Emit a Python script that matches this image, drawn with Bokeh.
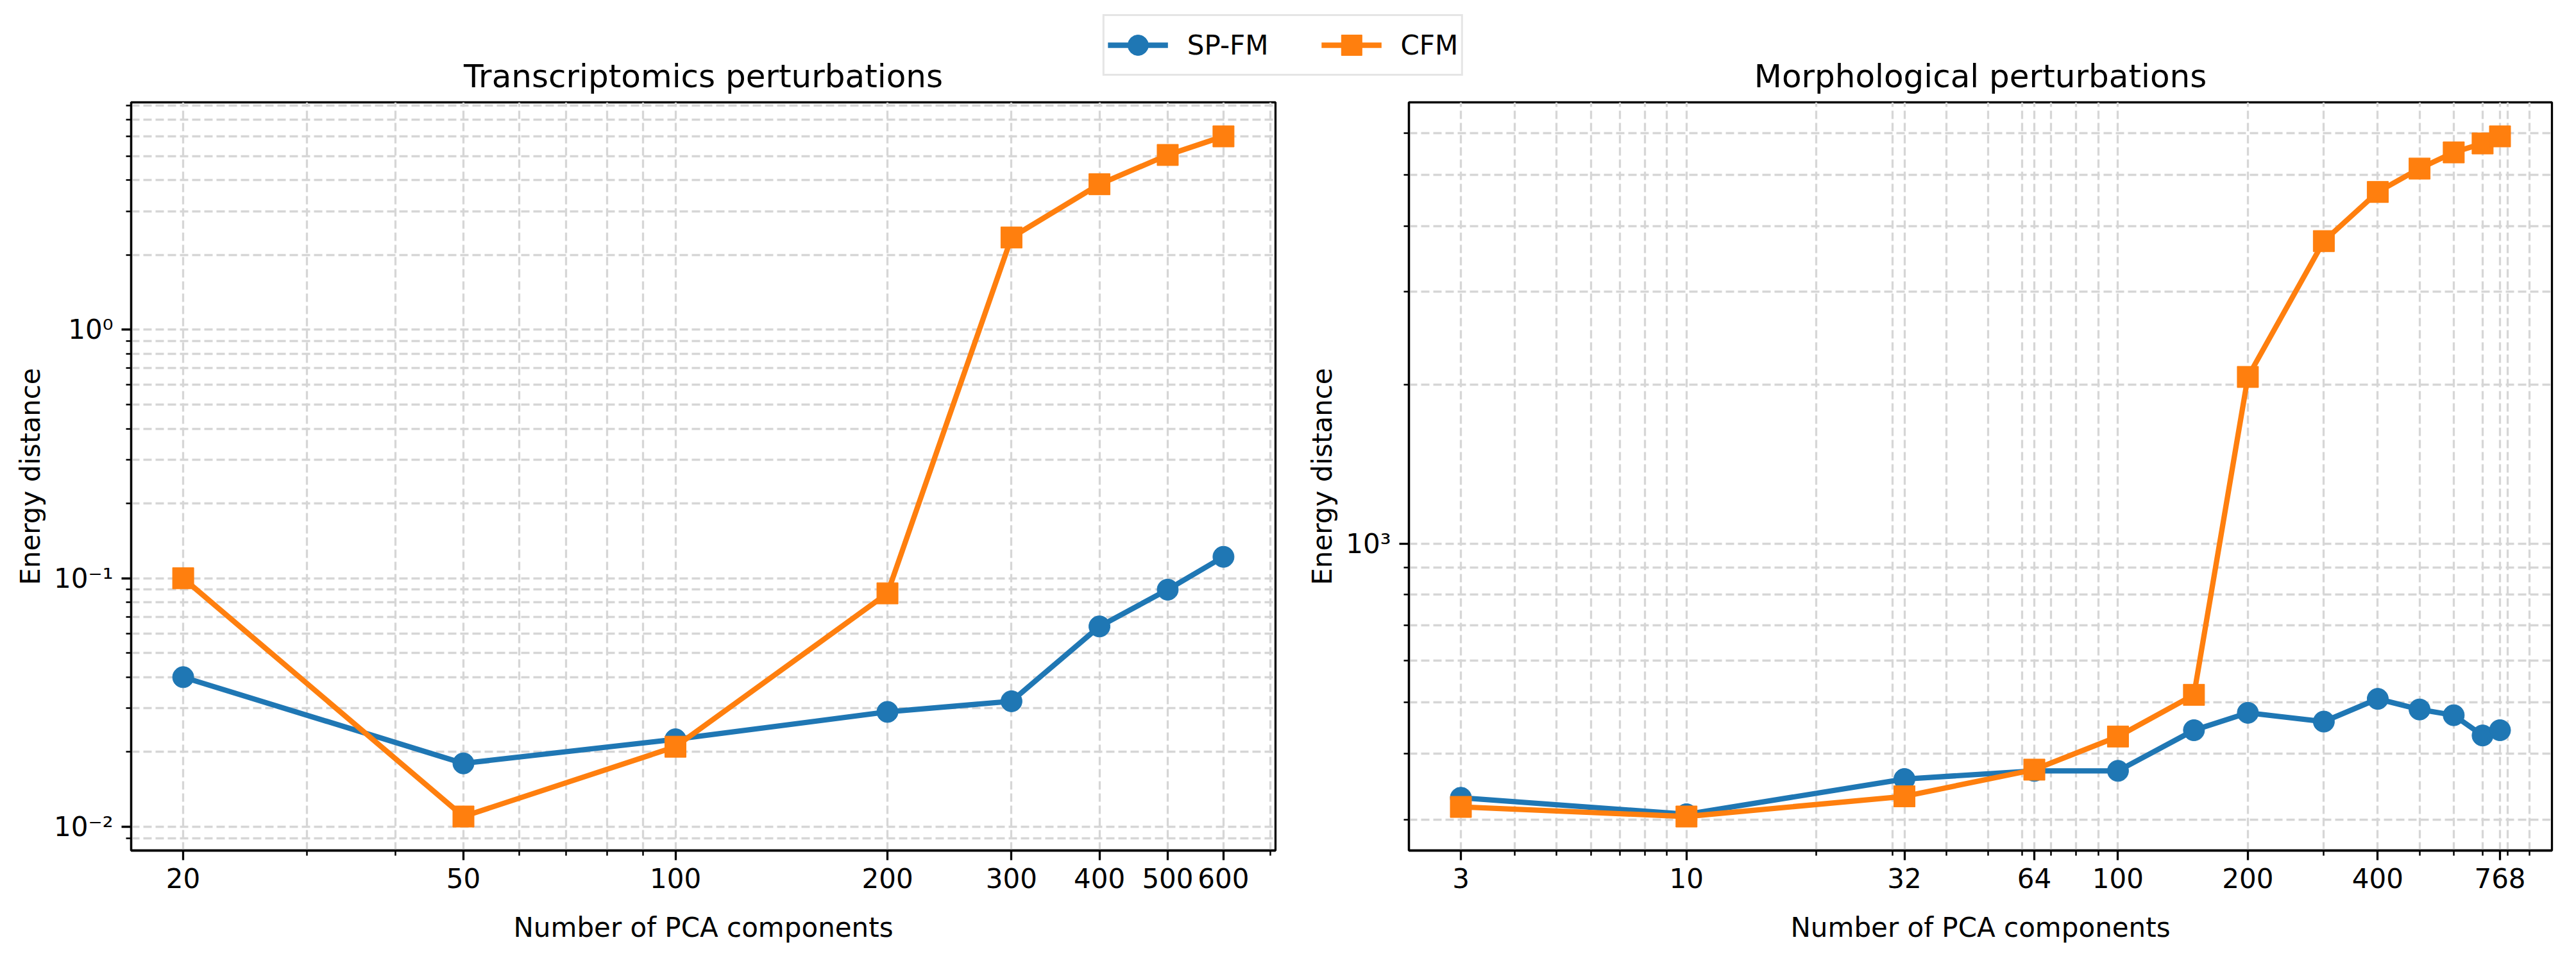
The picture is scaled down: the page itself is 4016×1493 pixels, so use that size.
import math
from bokeh.plotting import figure
from bokeh.layouts import column, row
from bokeh.models import (Range1d, FixedTicker, CustomJSTickFormatter, Legend,
                          LegendItem, Label)
from bokeh.embed import file_html
from bokeh.resources import INLINE

FONT = "DejaVu Sans"
BLUE = "#1f77b4"
ORANGE = "#ff7f0e"

# ---------------- data ----------------
trans_components = [20, 50, 100, 200, 300, 400, 500, 600]
trans_spfm = [0.040, 0.018, 0.0225, 0.029, 0.032, 0.064, 0.090, 0.122]
trans_cfm = [0.100, 0.011, 0.021, 0.087, 2.35, 3.85, 5.05, 6.0]

morph_components = [3, 10, 32, 64, 100, 150, 200, 300, 400, 500, 600, 700, 768]
morph_spfm = [330, 307, 358, 371, 371, 443, 478, 460, 508, 485, 473, 433, 443]
morph_cfm = [317, 304, 332, 373, 431, 517, 2070, 3745, 4640, 5140, 5515, 5735, 5915]

series_names = ["SP-FM", "CFM"]
panel_titles = ["Transcriptomics perturbations", "Morphological perturbations"]
x_label = "Number of PCA components"
y_label = "Energy distance"

trans_xticks = [20, 50, 100, 200, 300, 400, 500, 600]
trans_xtick_labels = ["20", "50", "100", "200", "300", "400", "500", "600"]
trans_xminor = [30, 40, 60, 70, 80, 90, 700]
trans_yticks = [0.01, 0.1, 1.0]
trans_ytick_labels = ["10\u207b\u00b2", "10\u207b\u00b9", "10\u2070"]
trans_yminor = [m * 10.0 ** e for e in (-3, -2, -1, 0) for m in range(2, 10)]

morph_xticks = [3, 10, 32, 64, 100, 200, 400, 768]
morph_xtick_labels = ["3", "10", "32", "64", "100", "200", "400", "768"]
morph_xminor = [4, 5, 6, 7, 8, 9, 20, 30, 40, 50, 60, 70, 80, 90,
                300, 500, 600, 700, 800, 900]
morph_yticks = [1000]
morph_ytick_labels = ["10\u00b3"]
morph_yminor = [m * 10.0 ** e for e in (2, 3) for m in range(2, 10)]


def log_range(vals, pad=0.05):
    lo = math.log10(min(vals))
    hi = math.log10(max(vals))
    d = (hi - lo) * pad
    return Range1d(10 ** (lo - d), 10 ** (hi + d))


def fmt(tvals, tlabels):
    return CustomJSTickFormatter(args=dict(tvals=tvals, tlabels=tlabels), code="""
        let best = 0, bd = Infinity;
        for (let i = 0; i < tvals.length; i++) {
            const d = Math.abs(Math.log(tick) - Math.log(tvals[i]));
            if (d < bd) { bd = d; best = i; }
        }
        return bd < 1e-6 ? tlabels[best] : "";
    """)


def make_panel(x, sp, cfm, xt, xtl, xm, yt, ytl, ym, fw, bl, br):
    p = figure(x_axis_type="log", y_axis_type="log",
               x_range=log_range(x), y_range=log_range(sp + cfm),
               frame_width=fw, frame_height=1166,
               min_border_left=bl, min_border_right=br,
               min_border_top=9, min_border_bottom=152,
               output_backend="svg", toolbar_location=None)
    p.background_fill_color = "white"
    p.border_fill_color = "white"
    p.outline_line_color = "black"
    p.outline_line_width = 3.3
    p.outline_line_alpha = 1.0

    p.xaxis.ticker = FixedTicker(ticks=xt, minor_ticks=xm)
    p.yaxis.ticker = FixedTicker(ticks=yt, minor_ticks=ym)
    p.xaxis.formatter = fmt(xt, xtl)
    p.yaxis.formatter = fmt(yt, ytl)
    p.xaxis.axis_label = x_label
    p.yaxis.axis_label = y_label

    for ax in (p.xaxis, p.yaxis):
        ax.axis_line_width = 3.3
        ax.axis_line_color = "black"
        ax.major_tick_line_width = 3.3
        ax.major_tick_out = 15
        ax.major_tick_in = 0
        ax.minor_tick_line_width = 2.5
        ax.minor_tick_out = 8
        ax.minor_tick_in = 0
        ax.major_label_text_font = FONT
        ax.major_label_text_font_size = "42px"
        ax.major_label_text_color = "black"
        ax.axis_label_text_font = FONT
        ax.axis_label_text_font_size = "42px"
        ax.axis_label_text_font_style = "normal"
        ax.axis_label_text_color = "black"
    p.xaxis.major_label_standoff = 12
    p.xaxis.axis_label_standoff = 34
    p.yaxis.major_label_standoff = 13
    p.yaxis.axis_label_standoff = 9

    for g in (p.xgrid, p.ygrid):
        g.grid_line_color = "#d6d6d6"
        g.grid_line_width = 3.3
        g.grid_line_dash = "13 6"
        g.minor_grid_line_color = "#d6d6d6"
        g.minor_grid_line_width = 3.3
        g.minor_grid_line_dash = "13 6"

    p.line(x, sp, color=BLUE, line_width=8.3)
    p.scatter(x, sp, marker="circle", size=33, color=BLUE, line_color=BLUE)
    p.line(x, cfm, color=ORANGE, line_width=8.3)
    p.scatter(x, cfm, marker="square", size=33, color=ORANGE, line_color=ORANGE)
    return p


p1 = make_panel(trans_components, trans_spfm, trans_cfm,
                trans_xticks, trans_xtick_labels, trans_xminor,
                trans_yticks, trans_ytick_labels, trans_yminor,
                fw=1784, bl=204, br=38)
p2 = make_panel(morph_components, morph_spfm, morph_cfm,
                morph_xticks, morph_xtick_labels, morph_xminor,
                morph_yticks, morph_ytick_labels, morph_yminor,
                fw=1782, bl=170, br=22)

# ---------------- header with titles and shared legend ----------------
HW, HH = 4000, 150
hdr = figure(width=HW, height=HH, x_range=Range1d(0, HW), y_range=Range1d(0, HH),
             x_axis_type=None, y_axis_type=None, min_border=0,
             output_backend="svg", toolbar_location=None)
hdr.outline_line_color = None
hdr.background_fill_color = "white"
hdr.border_fill_color = "white"

nan = [float("nan")]
l1 = hdr.line(nan, nan, color=BLUE, line_width=8.3)
m1 = hdr.scatter(nan, nan, marker="circle", size=33, color=BLUE)
l2 = hdr.line(nan, nan, color=ORANGE, line_width=8.3)
m2 = hdr.scatter(nan, nan, marker="square", size=33, color=ORANGE)

legend = Legend(items=[LegendItem(label=series_names[0], renderers=[l1, m1]),
                       LegendItem(label=series_names[1], renderers=[l2, m2])],
                orientation="horizontal", location="top_center", margin=22,
                padding=5, spacing=82, label_standoff=30,
                glyph_width=94, glyph_height=80, label_height=80,
                label_text_font=FONT, label_text_font_size="42px",
                label_text_color="black",
                border_line_color="#cccccc", border_line_width=3.5,
                background_fill_color="white", background_fill_alpha=0.8)
hdr.add_layout(legend, "center")

for cx, t in zip((1096, 3087), panel_titles):
    hdr.add_layout(Label(x=cx, y=32, text=t, text_align="center",
                         text_baseline="alphabetic", text_font=FONT,
                         text_font_size="50px", text_color="black"))

layout = column(hdr, row(p1, p2))
open("out.html", "w").write(file_html(layout, INLINE))
